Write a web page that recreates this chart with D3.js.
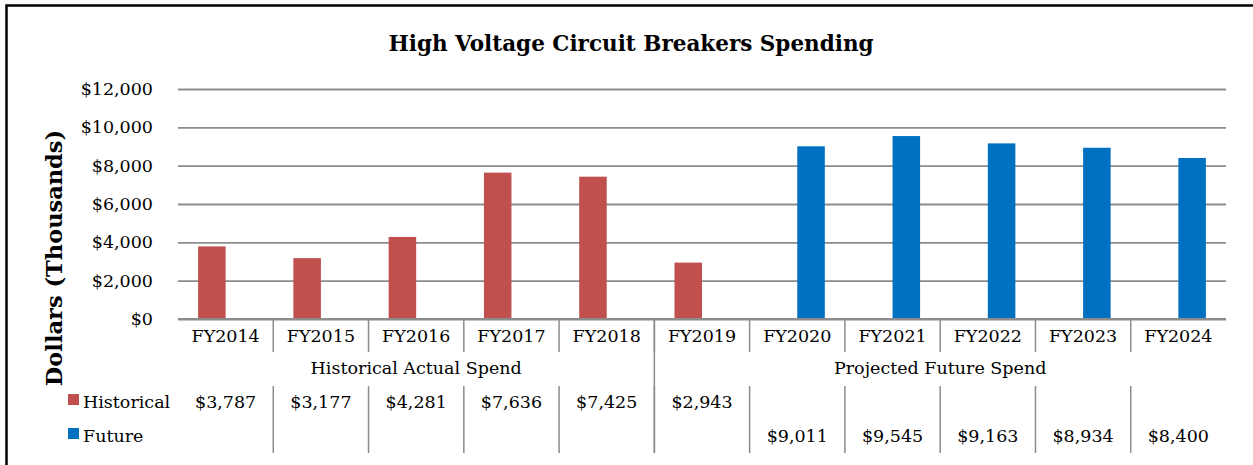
<!DOCTYPE html>
<html>
<head>
<meta charset="utf-8">
<script src="https://cdn.jsdelivr.net/npm/d3@7"></script>
<style>
  body { margin: 0; background: #fff; }
  svg { display: block; font-family: "DejaVu Serif", serif; }
</style>
</head>
<body>
<svg id="chart" width="1253" height="465"></svg>
<script>
// chart data
const years = ["FY2014", "FY2015", "FY2016", "FY2017", "FY2018", "FY2019",
               "FY2020", "FY2021", "FY2022", "FY2023", "FY2024"];
const historical = [3787, 3177, 4281, 7636, 7425, 2943, null, null, null, null, null];
const future = [null, null, null, null, null, null, 9011, 9545, 9163, 8934, 8400];
const seriesNames = ["Historical", "Future"];
const seriesColors = ["#C0504D", "#0070C0"];
const groups = [
  { label: "Historical Actual Spend", from: "FY2014", to: "FY2018" },
  { label: "Projected Future Spend", from: "FY2019", to: "FY2024" }
];
const yTicks = [0, 2000, 4000, 6000, 8000, 10000, 12000];

const svg = d3.select("#chart");
const plotLeft = 178, plotRight = 1226, plotTop = 89, plotBottom = 319;
const gridColor = "#8c8c8c";

// outer frame (cut off on right and bottom like the original)
svg.append("rect")
  .attr("x", 6.5).attr("y", 5.5)
  .attr("width", 1260).attr("height", 500)
  .attr("fill", "none").attr("stroke", "#000").attr("stroke-width", 2.5);

// title
svg.append("text")
  .attr("x", 631).attr("y", 51)
  .attr("text-anchor", "middle")
  .attr("font-weight", "bold").attr("font-size", 21.5)
  .text("High Voltage Circuit Breakers Spending");

const x = d3.scaleBand().domain(years).range([plotLeft, plotRight]).padding(0);
const xs = d3.scaleBand().domain(seriesNames).range([0, x.bandwidth()]).paddingOuter(0.73).paddingInner(0);
const y = d3.scaleLinear().domain([0, 12000]).range([plotBottom, plotTop]);

// gridlines + tick labels
const yAxis = d3.axisLeft(y).tickValues(yTicks)
  .tickSize(-(plotRight - plotLeft)).tickPadding(25)
  .tickFormat(d => "$" + d3.format(",")(d));
const gy = svg.append("g").attr("transform", `translate(${plotLeft},0)`).call(yAxis);
gy.select(".domain").remove();
gy.selectAll(".tick line").attr("stroke", gridColor).attr("stroke-width", 1.8);
gy.selectAll(".tick text").attr("font-size", 17.5).attr("fill", "#000")
  .attr("font-family", "DejaVu Serif, serif");

// y axis title
svg.append("text")
  .attr("transform", "translate(62,258) rotate(-90)")
  .attr("text-anchor", "middle")
  .attr("font-weight", "bold").attr("font-size", 22.5)
  .text("Dollars (Thousands)");

// bars
const series = [historical, future];
series.forEach((vals, si) => {
  svg.append("g").selectAll("rect")
    .data(years.map((yr, i) => ({ yr, v: vals[i] })).filter(d => d.v != null))
    .join("rect")
    .attr("x", d => x(d.yr) + xs(seriesNames[si]))
    .attr("width", xs.bandwidth())
    .attr("y", d => y(d.v))
    .attr("height", d => y(0) - y(d.v))
    .attr("fill", seriesColors[si]);
});

// category axis line
svg.append("line")
  .attr("x1", plotLeft).attr("x2", plotRight).attr("y1", plotBottom).attr("y2", plotBottom)
  .attr("stroke", gridColor).attr("stroke-width", 2);

// data table: category labels
svg.append("g").selectAll("text").data(years).join("text")
  .attr("x", d => x(d) + x.bandwidth() / 2).attr("y", 342)
  .attr("text-anchor", "middle").attr("font-size", 17.5)
  .text(d => d);

// dividers in category row and value rows
const inner = years.slice(1);
svg.append("g").selectAll("line").data(inner).join("line")
  .attr("x1", d => x(d)).attr("x2", d => x(d))
  .attr("y1", plotBottom).attr("y2", 352)
  .attr("stroke", gridColor).attr("stroke-width", 1.5);
svg.append("g").selectAll("line").data(inner).join("line")
  .attr("x1", d => x(d)).attr("x2", d => x(d))
  .attr("y1", 386).attr("y2", 453)
  .attr("stroke", gridColor).attr("stroke-width", 1.5);

// group labels and group divider
groups.forEach((g, gi) => {
  const x0 = x(g.from), x1 = x(g.to) + x.bandwidth();
  svg.append("text")
    .attr("x", (x0 + x1) / 2).attr("y", 374)
    .attr("text-anchor", "middle").attr("font-size", 17.5)
    .text(g.label);
  if (gi > 0) {
    svg.append("line")
      .attr("x1", x0).attr("x2", x0).attr("y1", plotBottom).attr("y2", 453)
      .attr("stroke", gridColor).attr("stroke-width", 1.5);
  }
});

// value rows with legend keys
const rowY = [408, 442];
series.forEach((vals, si) => {
  svg.append("rect")
    .attr("x", 68).attr("y", rowY[si] - 14)
    .attr("width", 11).attr("height", 11)
    .attr("fill", seriesColors[si]);
  svg.append("text")
    .attr("x", 83).attr("y", rowY[si])
    .attr("font-size", 17.5)
    .text(seriesNames[si]);
  svg.append("g").selectAll("text")
    .data(years.map((yr, i) => ({ yr, v: vals[i] })).filter(d => d.v != null))
    .join("text")
    .attr("x", d => x(d.yr) + x.bandwidth() / 2).attr("y", rowY[si])
    .attr("text-anchor", "middle").attr("font-size", 17.5)
    .text(d => "$" + d3.format(",")(d.v));
});
</script>
</body>
</html>
